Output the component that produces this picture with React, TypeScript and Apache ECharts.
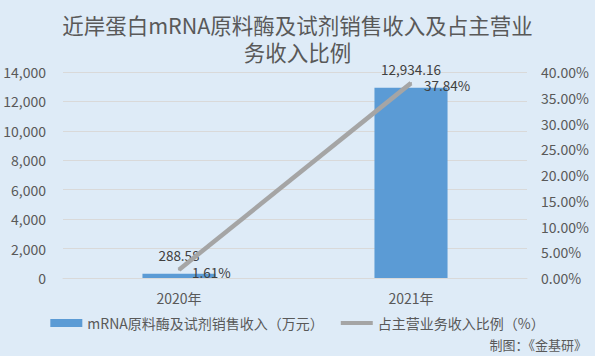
import React, { useEffect, useRef } from "react";
import * as echarts from "echarts";

const categories = ["2020年", "2021年"];
const revenue = [288.58, 12934.16];
const ratio = [1.61, 37.84];
const titleLines = ["近岸蛋白mRNA原料酶及试剂销售收入及占主营业", "务收入比例"];
const seriesNames = ["mRNA原料酶及试剂销售收入（万元）", "占主营业务收入比例（%）"];
const sourceText = "制图：《金基研》";

const FONT = "'Noto Sans CJK SC', 'Noto Sans', sans-serif";
const TXT = "#595959";

export default function App() {
  const ref = useRef<HTMLDivElement>(null);
  useEffect(() => {
    if (!ref.current) return;
    const chart = echarts.init(ref.current, undefined, { renderer: "svg" });
    const titleStyle = { fontSize: 21.5, fontWeight: "normal", color: TXT, lineHeight: 24, fontFamily: FONT };
    chart.setOption({
      animation: false,
      backgroundColor: "#DEEBF7",
      textStyle: { fontFamily: FONT },
      title: [
        { text: titleLines[0], left: "center", top: 12, padding: 0, textStyle: titleStyle },
        { text: titleLines[1], left: "center", top: 39, padding: 0, textStyle: titleStyle },
      ],
      grid: { left: 63, right: 68, top: 72, bottom: 78 },
      legend: {
        top: 316,
        left: "center",
        itemWidth: 32,
        itemHeight: 8,
        itemGap: 17,
        padding: 0,
        textStyle: { fontSize: 14, color: TXT, fontFamily: FONT },
        data: [
          { name: seriesNames[0], icon: "rect" },
          { name: seriesNames[1], icon: "path://M0,0h0.01v0.01h-0.01z M0,2h32v4h-32z M0,8h0.01v0.01h-0.01z" },
        ],
      },
      xAxis: {
        type: "category",
        data: categories,
        axisLine: { lineStyle: { color: "#D9D9D9" } },
        axisTick: { show: false },
        axisLabel: { color: TXT, fontSize: 14, margin: 13 },
      },
      yAxis: [
        {
          type: "value",
          min: 0,
          max: 14000,
          interval: 2000,
          axisLine: { show: false },
          axisTick: { show: false },
          splitLine: { lineStyle: { color: "#D9D9D9" } },
          axisLabel: {
            color: TXT,
            fontSize: 14,
            margin: 17,
            formatter: (v: number) => v.toLocaleString("en-US"),
          },
        },
        {
          type: "value",
          min: 0,
          max: 40,
          interval: 5,
          axisLine: { show: false },
          axisTick: { show: false },
          splitLine: { show: false },
          axisLabel: {
            color: TXT,
            fontSize: 14,
            margin: 14,
            formatter: (v: number) => v.toFixed(2) + "%",
          },
        },
      ],
      series: [
        {
          name: seriesNames[0],
          type: "bar",
          data: revenue,
          barWidth: "31.5%",
          itemStyle: { color: "#5B9BD5" },
          label: {
            show: true,
            position: "top",
            distance: 12,
            lineHeight: 13,
            color: "#404040",
            fontSize: 13.5,
            formatter: (p: any) =>
              Number(p.value).toLocaleString("en-US", { minimumFractionDigits: 2, maximumFractionDigits: 2 }),
          },
        },
        {
          name: seriesNames[1],
          type: "line",
          yAxisIndex: 1,
          data: ratio,
          symbol: "circle",
          symbolSize: 2,
          showSymbol: true,
          lineStyle: { color: "#A5A5A5", width: 4.5 },
          itemStyle: { color: "#A5A5A5" },
          label: {
            show: true,
            position: "right",
            distance: 12,
            offset: [0, 2],
            lineHeight: 13,
            color: "#404040",
            fontSize: 13.5,
            formatter: (p: any) => Number(p.value).toFixed(2) + "%",
          },
        },
      ],
      graphic: [
        {
          type: "text",
          right: 8,
          bottom: 5,
          style: { text: sourceText, fill: TXT, fontSize: 13, fontFamily: FONT },
        },
      ],
    });
    return () => chart.dispose();
  }, []);
  return <div ref={ref} style={{ width: 595, height: 356, position: "fixed", left: 0, top: 0 }} />;
}
